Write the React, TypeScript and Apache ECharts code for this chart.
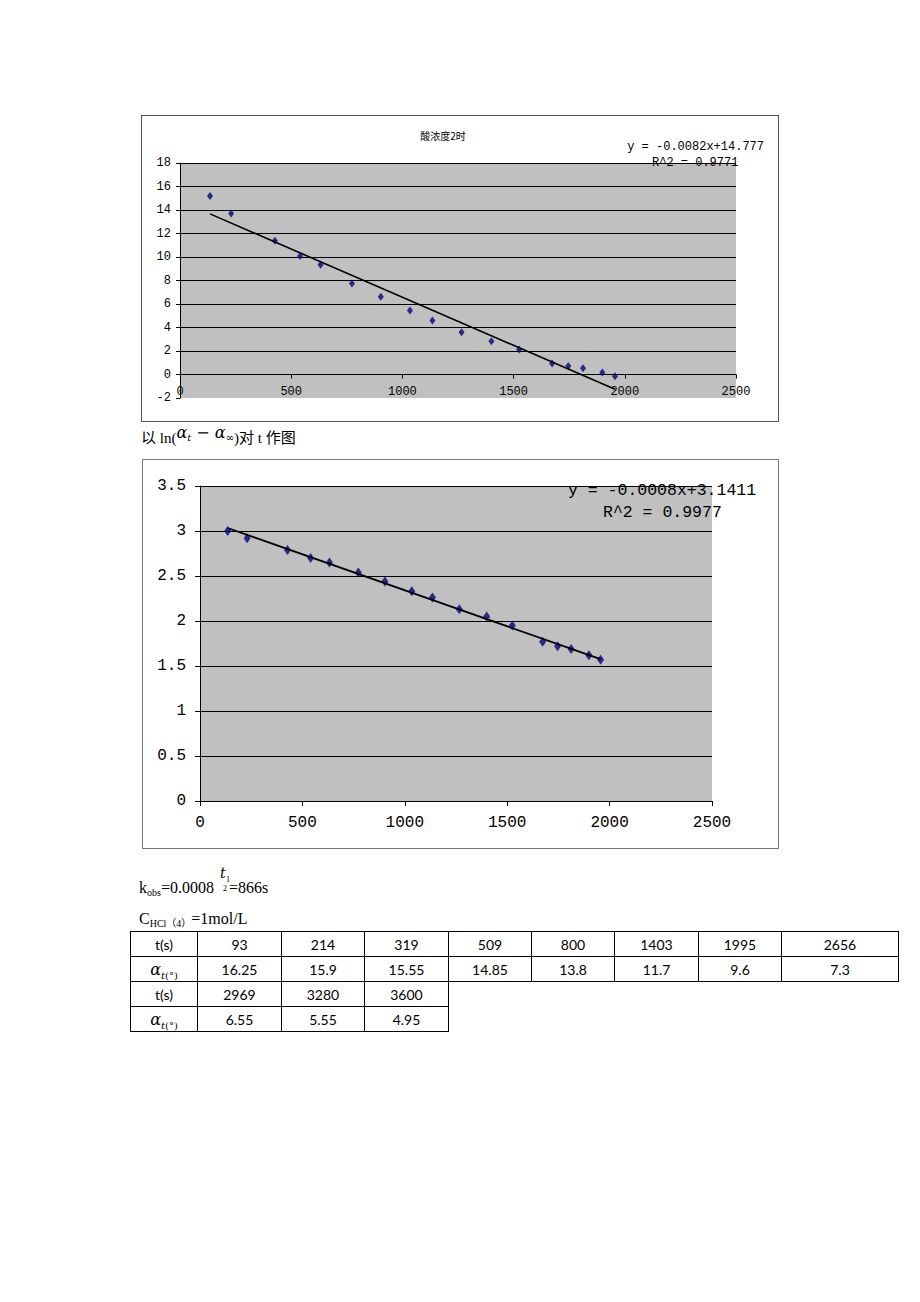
import React, { useEffect, useRef } from "react";
import * as echarts from "echarts";

// ---- data ----
const tValues = [135, 230, 427, 540, 632, 773, 903, 1034, 1135, 1266, 1400, 1525, 1673, 1746, 1812, 1899, 1956];
const chart1Y = [15.2, 13.7, 11.38, 10.08, 9.35, 7.74, 6.61, 5.45, 4.6, 3.59, 2.82, 2.12, 0.93, 0.73, 0.54, 0.17, -0.14];
const chart2Y = [3.0, 2.92, 2.79, 2.7, 2.65, 2.54, 2.44, 2.33, 2.26, 2.13, 2.05, 1.95, 1.77, 1.72, 1.69, 1.62, 1.57];
const fit1 = { slope: -0.0082, intercept: 14.777 };
const fit2 = { slope: -0.0008, intercept: 3.1411 };
const chart1Title = "酸浓度2时";
const chart1Eq = "y = -0.0082x+14.777";
const chart1R2 = "R^2 = 0.9771";
const chart2Eq = "y = -0.0008x+3.1411";
const chart2R2 = "R^2 = 0.9977";
const chart1GridValues = [0, 2, 4, 6, 8, 10, 12, 14, 16, 18];

const tableT1 = ["93", "214", "319", "509", "800", "1403", "1995", "2656"];
const tableA1 = ["16.25", "15.9", "15.55", "14.85", "13.8", "11.7", "9.6", "7.3"];
const tableT2 = ["2969", "3280", "3600"];
const tableA2 = ["6.55", "5.55", "4.95"];

const MONO = '"Liberation Mono", "DejaVu Sans Mono", monospace';
const SERIF = '"Liberation Serif", "Noto Sans CJK SC", serif';
const plain = (v: number) => String(v);

function trend(fit: { slope: number; intercept: number }) {
  const x0 = tValues[0];
  const x1 = tValues[tValues.length - 1];
  return [
    [x0, fit.slope * x0 + fit.intercept],
    [x1, fit.slope * x1 + fit.intercept],
  ];
}

function Chart({ option, width, height }: { option: any; width: number; height: number }) {
  const ref = useRef<HTMLDivElement>(null);
  useEffect(() => {
    const c = echarts.init(ref.current!, null, { renderer: "svg" });
    c.setOption(option);
    return () => c.dispose();
  }, []);
  return <div ref={ref} style={{ width, height }} />;
}

const option1 = {
  animation: false,
  grid: { left: 38, top: 47, width: 556, height: 235, show: true, backgroundColor: "#c0c0c0", borderWidth: 0 },
  xAxis: {
    type: "value",
    min: 0,
    max: 2500,
    interval: 500,
    offset: -23.5,
    axisLine: { show: true, onZero: false, lineStyle: { color: "#000", width: 1 } },
    axisTick: { show: true, length: 4, lineStyle: { color: "#000" } },
    axisLabel: { fontFamily: MONO, fontSize: 12, color: "#000", margin: 11, formatter: plain },
    splitLine: { show: false },
  },
  yAxis: {
    type: "value",
    min: -2,
    max: 18,
    interval: 2,
    axisLine: { show: true, onZero: false, lineStyle: { color: "#000", width: 1 } },
    axisTick: { show: true, length: 4, lineStyle: { color: "#000" } },
    axisLabel: { fontFamily: MONO, fontSize: 12, color: "#000", margin: 9 },
    splitLine: { show: false },
  },
  graphic: [
    { type: "text", x: 301, y: 19, style: { text: chart1Title, fontSize: 10, fontFamily: '"Noto Sans CJK SC"', fill: "#000", textAlign: "center", textVerticalAlign: "middle" } },
    { type: "text", x: 622, y: 31, style: { text: chart1Eq, fontSize: 12, fontFamily: MONO, fill: "#000", textAlign: "right", textVerticalAlign: "middle" } },
    { type: "text", x: 510, y: 47, style: { text: chart1R2, fontSize: 12, fontFamily: MONO, fill: "#000", textAlign: "left", textVerticalAlign: "middle" } },
  ],
  series: [
    {
      type: "scatter",
      data: tValues.map((t, i) => [t, chart1Y[i]]),
      symbol: "diamond",
      symbolSize: [6, 8],
      itemStyle: { color: "#000080" },
      z: 3,
      markLine: {
        silent: true,
        symbol: "none",
        label: { show: false },
        lineStyle: { color: "#000", width: 1, type: "solid" },
        data: chart1GridValues.map((v) => ({ yAxis: v })),
        z: 1,
      },
    },
    {
      type: "line",
      data: trend(fit1),
      symbol: "none",
      lineStyle: { color: "#000", width: 1.6 },
      z: 4,
    },
  ],
};

const option2 = {
  animation: false,
  grid: { left: 57, top: 26, width: 512, height: 315, show: true, backgroundColor: "#c0c0c0", borderWidth: 0 },
  xAxis: {
    type: "value",
    min: 0,
    max: 2500,
    interval: 500,
    axisLine: { show: true, onZero: false, lineStyle: { color: "#000", width: 1 } },
    axisTick: { show: true, length: 5, lineStyle: { color: "#000" } },
    axisLabel: { fontFamily: MONO, fontSize: 16, color: "#000", margin: 14, formatter: plain },
    splitLine: { show: false },
  },
  yAxis: {
    type: "value",
    min: 0,
    max: 3.5,
    interval: 0.5,
    axisLine: { show: true, onZero: false, lineStyle: { color: "#000", width: 1 } },
    axisTick: { show: true, length: 5, lineStyle: { color: "#000" } },
    axisLabel: { fontFamily: MONO, fontSize: 16, color: "#000", margin: 14 },
    splitLine: { show: true, lineStyle: { color: "#000", width: 1 } },
  },
  graphic: [
    { type: "text", x: 425, y: 30, style: { text: chart2Eq, fontSize: 16.5, fontFamily: MONO, fill: "#000", textAlign: "left", textVerticalAlign: "middle" } },
    { type: "text", x: 460, y: 52, style: { text: chart2R2, fontSize: 16.5, fontFamily: MONO, fill: "#000", textAlign: "left", textVerticalAlign: "middle" } },
  ],
  series: [
    {
      type: "scatter",
      data: tValues.map((t, i) => [t, chart2Y[i]]),
      symbol: "diamond",
      symbolSize: [7, 10],
      itemStyle: { color: "#000080" },
      z: 3,
    },
    {
      type: "line",
      data: trend(fit2),
      symbol: "none",
      lineStyle: { color: "#000", width: 1.8 },
      z: 4,
    },
  ],
};

const cellStyle: React.CSSProperties = {
  border: "1px solid #000",
  height: 24,
  padding: 0,
  textAlign: "center",
  verticalAlign: "middle",
  fontFamily: "Lato, 'Open Sans', sans-serif",
  fontSize: 14,
  color: "#000",
};

const colWidths = [67, 84, 83, 84, 83, 83, 84, 83, 117];

function AlphaLabel() {
  return (
    <span style={{ fontFamily: '"DejaVu Serif", serif' }}>
      <span style={{ fontStyle: "italic", fontSize: 16 }}>α</span>
      <span style={{ fontStyle: "italic", fontSize: 10, position: "relative", top: 4 }}>t</span>
      <span style={{ fontSize: 10, position: "relative", top: 4 }}>(°)</span>
    </span>
  );
}

function DataTable() {
  const rows: { label: React.ReactNode; cells: string[] }[] = [
    { label: "t(s)", cells: tableT1 },
    { label: <AlphaLabel />, cells: tableA1 },
    { label: "t(s)", cells: tableT2 },
    { label: <AlphaLabel />, cells: tableA2 },
  ];
  return (
    <table style={{ position: "absolute", left: 130, top: 931, borderCollapse: "collapse", tableLayout: "fixed" }}>
      <colgroup>
        {colWidths.map((w, i) => (
          <col key={i} style={{ width: w }} />
        ))}
      </colgroup>
      <tbody>
        {rows.map((r, ri) => (
          <tr key={ri}>
            <td style={cellStyle}>{r.label}</td>
            {r.cells.map((c, ci) => (
              <td key={ci} style={cellStyle}>
                {c}
              </td>
            ))}
            {Array.from({ length: 8 - r.cells.length }).map((_, k) => (
              <td key={"e" + k} style={{ ...cellStyle, border: "none" }} />
            ))}
          </tr>
        ))}
      </tbody>
    </table>
  );
}

export default function App() {
  return (
    <div style={{ position: "absolute", left: 0, top: 0, width: 920, height: 1302, background: "#fff", overflow: "hidden" }}>
      <div style={{ position: "absolute", left: 141, top: 115, width: 638, height: 307, border: "1px solid #555", boxSizing: "border-box" }}>
        <Chart option={option1} width={636} height={305} />
      </div>

      <div style={{ position: "absolute", left: 141, top: 429, fontFamily: SERIF, fontSize: 15, lineHeight: "18px", whiteSpace: "nowrap" }}>
        以 ln(
        <span style={{ position: "relative", top: -5, fontStyle: "italic", fontSize: 16, fontFamily: '"DejaVu Serif", serif' }}>
          α<span style={{ fontSize: 10, position: "relative", top: 3 }}>t</span> − α
          <span style={{ fontSize: 10, fontStyle: "normal", position: "relative", top: 3 }}>∞</span>
        </span>
        )对 t 作图
      </div>

      <div style={{ position: "absolute", left: 142, top: 459, width: 637, height: 390, border: "1px solid #777", boxSizing: "border-box" }}>
        <Chart option={option2} width={635} height={388} />
      </div>

      <div style={{ position: "absolute", left: 139, top: 880, fontFamily: SERIF, fontSize: 16, lineHeight: "16px", whiteSpace: "nowrap" }}>
        k<span style={{ fontSize: 10, position: "relative", top: 3 }}>obs</span>=0.0008
      </div>
      <div style={{ position: "absolute", left: 220, top: 866, fontFamily: '"DejaVu Serif", serif', fontSize: 14, fontStyle: "italic", lineHeight: "14px" }}>t</div>
      <div style={{ position: "absolute", left: 226, top: 876, fontFamily: SERIF, fontSize: 8, lineHeight: "8px" }}>1</div>
      <div style={{ position: "absolute", left: 223, top: 885, fontFamily: SERIF, fontSize: 8, lineHeight: "8px" }}>2</div>
      <div style={{ position: "absolute", left: 229, top: 880, fontFamily: SERIF, fontSize: 16, lineHeight: "16px", whiteSpace: "nowrap" }}>=866s</div>

      <div style={{ position: "absolute", left: 139, top: 911, fontFamily: SERIF, fontSize: 16, lineHeight: "16px", whiteSpace: "nowrap" }}>
        C<span style={{ fontSize: 10, position: "relative", top: 3 }}>HCl（4）</span>=1mol/L
      </div>

      <DataTable />
    </div>
  );
}
